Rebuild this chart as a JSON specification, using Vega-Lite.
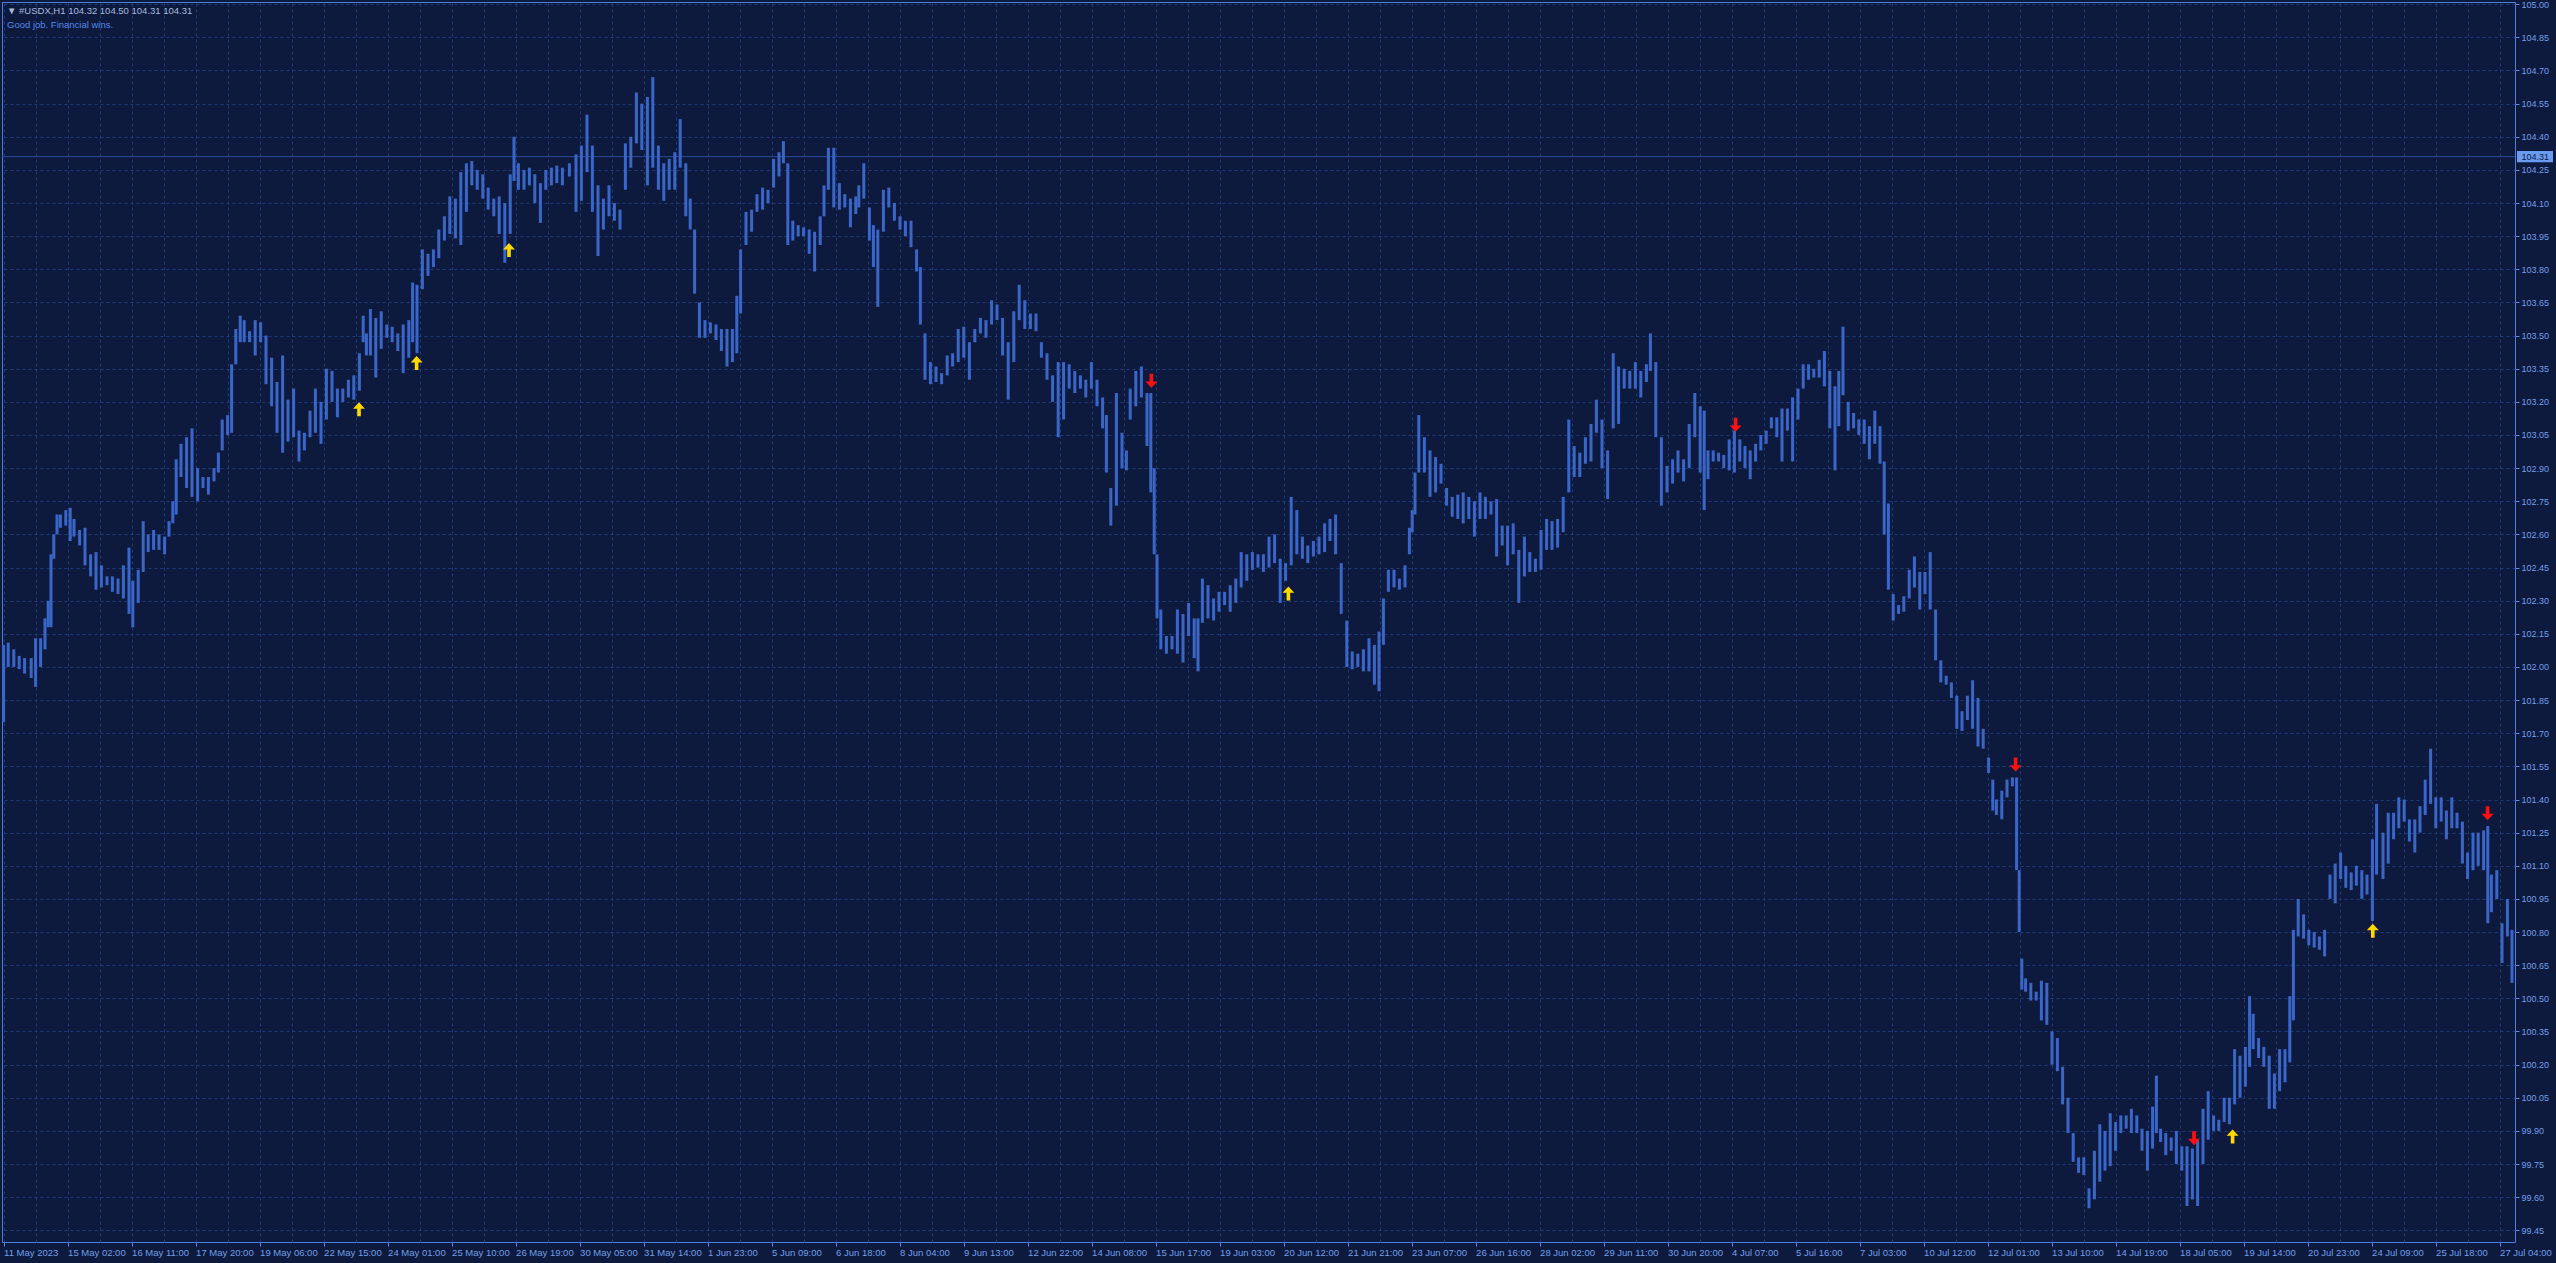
{
"$schema": "https://vega.github.io/schema/vega-lite/v6.json",
"width": 2513,
"height": 1240,
"autosize": {"type": "none"},
"padding": {"left": 2, "top": 2, "right": 41, "bottom": 21},
"background": "#0e1a3d",
"title": {"text": "▼ #USDX,H1  104.32 104.50 104.31 104.31", "subtitle": "Good job. Financial wins.", "anchor": "start", "frame": "group", "orient": "top", "offset": -29, "dx": 5, "font": "Liberation Sans", "fontSize": 9.5, "fontWeight": "normal", "color": "#aab9dd", "subtitleFont": "Liberation Sans", "subtitleFontSize": 9.5, "subtitleColor": "#5288ea", "subtitlePadding": 4},
"config": {
  "view": {"stroke": "#4e7fdc", "strokeWidth": 1},
  "axis": {"labelFont": "Liberation Sans", "labelColor": "#729fea", "tickColor": "#5a8ae0", "gridColor": "#1e3a78", "gridDash": [3, 3], "gridWidth": 1, "domain": false, "title": null}
},
"resolve": {"axis": {"x": "independent", "y": "independent"}},
"layer": [
  {
    "data": {"values": [{"p": 104.31}]},
    "mark": {"type": "rule", "color": "#2a4a96", "strokeWidth": 1},
    "encoding": {
      "y": {"field": "p", "type": "quantitative", "scale": {"domain": [99.397, 105.01], "nice": false, "zero": false},
        "axis": {"orient": "right", "values": [99.45, 99.6, 99.75, 99.9, 100.05, 100.2, 100.35, 100.5, 100.65, 100.8, 100.95, 101.1, 101.25, 101.4, 101.55, 101.7, 101.85, 102, 102.15, 102.3, 102.45, 102.6, 102.75, 102.9, 103.05, 103.2, 103.35, 103.5, 103.65, 103.8, 103.95, 104.1, 104.25, 104.4, 104.55, 104.7, 104.85, 105], "format": ".2f", "grid": true, "ticks": true, "tickSize": 4, "labelPadding": 2, "labelFontSize": 9, "labelOverlap": false, "labelBound": false, "labelFlush": false}}
    }
  },
  {
    "data": {"values": [
{"i":0,"h":102.1,"l":101.75},{"i":2.3,"h":102.11,"l":102.0},{"i":5.1,"h":102.08,"l":102.0},{"i":7.8,"h":102.05,"l":101.99},{"i":10.5,"h":102.04,"l":101.97},{"i":13.8,"h":102.04,"l":101.95},{"i":16,"h":102.13,"l":101.91},{"i":18.5,"h":102.13,"l":102.0},{"i":20.7,"h":102.22,"l":102.08},{"i":22.3,"h":102.3,"l":102.18},
{"i":23.7,"h":102.51,"l":102.18},{"i":25.1,"h":102.6,"l":102.49},{"i":26.7,"h":102.69,"l":102.6},{"i":28.4,"h":102.69,"l":102.63},{"i":31.1,"h":102.71,"l":102.64},{"i":33.3,"h":102.72,"l":102.57},{"i":35.2,"h":102.67,"l":102.59},{"i":38,"h":102.62,"l":102.55},{"i":40.7,"h":102.63,"l":102.46},{"i":43.5,"h":102.51,"l":102.41},
{"i":46.2,"h":102.52,"l":102.35},{"i":48.9,"h":102.46,"l":102.36},{"i":51.7,"h":102.41,"l":102.37},{"i":54.4,"h":102.41,"l":102.34},{"i":57.2,"h":102.4,"l":102.33},{"i":59.9,"h":102.46,"l":102.31},{"i":62.7,"h":102.54,"l":102.24},{"i":64.6,"h":102.39,"l":102.18},{"i":67.3,"h":102.44,"l":102.29},{"i":69.8,"h":102.66,"l":102.43},
{"i":72.3,"h":102.6,"l":102.52},{"i":75,"h":102.62,"l":102.53},{"i":77.7,"h":102.6,"l":102.53},{"i":80.5,"h":102.59,"l":102.51},{"i":82.7,"h":102.66,"l":102.59},{"i":84.6,"h":102.75,"l":102.65},{"i":86.3,"h":102.94,"l":102.69},{"i":88.7,"h":103.01,"l":102.86},{"i":91.5,"h":103.04,"l":102.81},{"i":94.2,"h":103.08,"l":102.77},
{"i":97,"h":102.9,"l":102.75},{"i":99.7,"h":102.86,"l":102.81},{"i":102.4,"h":102.86,"l":102.78},{"i":105.2,"h":102.9,"l":102.84},{"i":107.4,"h":102.97,"l":102.88},{"i":109.3,"h":103.12,"l":102.98},{"i":112,"h":103.14,"l":103.05},{"i":114,"h":103.37,"l":103.06},{"i":116.1,"h":103.53,"l":103.37},{"i":118.3,"h":103.59,"l":103.47},
{"i":120.3,"h":103.57,"l":103.47},{"i":123,"h":103.52,"l":103.47},{"i":125.8,"h":103.57,"l":103.41},{"i":128.5,"h":103.56,"l":103.47},{"i":131.2,"h":103.5,"l":103.28},{"i":134,"h":103.4,"l":103.18},{"i":136.7,"h":103.29,"l":103.06},{"i":139.5,"h":103.41,"l":102.97},{"i":142.2,"h":103.21,"l":103.02},{"i":145,"h":103.26,"l":103.04},
{"i":147.7,"h":103.07,"l":102.93},{"i":150.4,"h":103.06,"l":102.98},{"i":153.2,"h":103.16,"l":103.04},{"i":155.9,"h":103.26,"l":103.06},{"i":158.7,"h":103.2,"l":103.01},{"i":161.4,"h":103.35,"l":103.12},{"i":164.2,"h":103.34,"l":103.2},{"i":166.9,"h":103.26,"l":103.13},{"i":169.6,"h":103.26,"l":103.2},{"i":172.4,"h":103.3,"l":103.22},
{"i":175.1,"h":103.32,"l":103.21},{"i":177.9,"h":103.42,"l":103.25},{"i":179.8,"h":103.59,"l":103.47},{"i":181.4,"h":103.51,"l":103.41},{"i":183.4,"h":103.62,"l":103.41},{"i":186.1,"h":103.58,"l":103.31},{"i":188.8,"h":103.61,"l":103.44},{"i":191.6,"h":103.55,"l":103.49},{"i":194.3,"h":103.54,"l":103.47},{"i":197.1,"h":103.51,"l":103.43},
{"i":199.8,"h":103.55,"l":103.33},{"i":202.6,"h":103.57,"l":103.4},{"i":204.5,"h":103.74,"l":103.47},{"i":206.7,"h":103.73,"l":103.42},{"i":209.4,"h":103.89,"l":103.71},{"i":212.2,"h":103.87,"l":103.77},{"i":214.9,"h":103.89,"l":103.81},{"i":217.6,"h":103.98,"l":103.85},{"i":220.4,"h":104.04,"l":103.93},{"i":223.1,"h":104.13,"l":103.96},
{"i":225.9,"h":104.12,"l":103.94},{"i":228.6,"h":104.24,"l":103.91},{"i":231.4,"h":104.28,"l":104.06},{"i":234.1,"h":104.29,"l":104.18},{"i":236.8,"h":104.25,"l":104.16},{"i":239.6,"h":104.23,"l":104.12},{"i":242.3,"h":104.17,"l":104.07},{"i":245.1,"h":104.12,"l":104.04},{"i":247.8,"h":104.13,"l":103.96},{"i":250.6,"h":104.1,"l":103.83},
{"i":253.3,"h":104.23,"l":103.96},{"i":255.2,"h":104.4,"l":104.2},{"i":257.4,"h":104.28,"l":104.16},{"i":260.2,"h":104.25,"l":104.16},{"i":262.9,"h":104.26,"l":104.18},{"i":265.6,"h":104.23,"l":104.1},{"i":268.4,"h":104.19,"l":104.01},{"i":271.1,"h":104.25,"l":104.16},{"i":273.9,"h":104.26,"l":104.18},{"i":276.6,"h":104.27,"l":104.19},
{"i":279.4,"h":104.26,"l":104.18},{"i":282.9,"h":104.28,"l":104.22},{"i":286.2,"h":104.32,"l":104.06},{"i":288.9,"h":104.36,"l":104.11},{"i":291.7,"h":104.5,"l":104.24},{"i":294.4,"h":104.36,"l":104.06},{"i":297.2,"h":104.18,"l":103.86},{"i":299.9,"h":104.12,"l":103.98},{"i":302.7,"h":104.18,"l":104.04},{"i":305.4,"h":104.1,"l":104.02},
{"i":308.2,"h":104.07,"l":103.98},{"i":310.9,"h":104.37,"l":104.16},{"i":313.6,"h":104.4,"l":104.26},{"i":316.4,"h":104.6,"l":104.37},{"i":319.1,"h":104.55,"l":104.34},{"i":321.9,"h":104.58,"l":104.18},{"i":324.6,"h":104.67,"l":104.26},{"i":327.4,"h":104.36,"l":104.16},{"i":330.1,"h":104.28,"l":104.11},{"i":332.8,"h":104.3,"l":104.16},
{"i":335.6,"h":104.33,"l":104.16},{"i":338.3,"h":104.48,"l":104.26},{"i":341.1,"h":104.28,"l":104.04},{"i":343.3,"h":104.12,"l":103.98},{"i":345.5,"h":103.98,"l":103.69},{"i":347.9,"h":103.65,"l":103.49},{"i":350.7,"h":103.57,"l":103.49},{"i":353.4,"h":103.56,"l":103.51},{"i":356.2,"h":103.55,"l":103.48},{"i":358.9,"h":103.53,"l":103.43},
{"i":361.7,"h":103.53,"l":103.36},{"i":364.4,"h":103.53,"l":103.38},{"i":366.6,"h":103.68,"l":103.42},{"i":368.5,"h":103.89,"l":103.6},{"i":371.2,"h":104.06,"l":103.91},{"i":374,"h":104.07,"l":103.97},{"i":376.7,"h":104.14,"l":104.06},{"i":379.5,"h":104.17,"l":104.07},{"i":382.2,"h":104.16,"l":104.1},{"i":385,"h":104.3,"l":104.17},
{"i":387.7,"h":104.33,"l":104.22},{"i":389.9,"h":104.38,"l":104.28},{"i":392.1,"h":104.28,"l":103.91},{"i":394.6,"h":104.02,"l":103.93},{"i":397.3,"h":104.0,"l":103.95},{"i":400,"h":103.99,"l":103.95},{"i":402.8,"h":103.98,"l":103.87},{"i":405.5,"h":103.97,"l":103.79},{"i":408.3,"h":104.04,"l":103.91},{"i":410.2,"h":104.18,"l":104.04},
{"i":412.4,"h":104.35,"l":104.16},{"i":415.1,"h":104.35,"l":104.08},{"i":417.9,"h":104.19,"l":104.07},{"i":420.6,"h":104.14,"l":104.08},{"i":423.4,"h":104.12,"l":103.99},{"i":426.1,"h":104.13,"l":104.05},{"i":427.6,"h":104.18,"l":104.08},{"i":430.1,"h":104.28,"l":104.12},{"i":432.9,"h":104.08,"l":103.93},{"i":434.9,"h":104.0,"l":103.81},
{"i":437.1,"h":103.98,"l":103.63},{"i":439.9,"h":104.16,"l":103.97},{"i":442.6,"h":104.17,"l":104.08},{"i":445.4,"h":104.1,"l":104.02},{"i":448.2,"h":104.04,"l":103.98},{"i":450.9,"h":104.02,"l":103.95},{"i":453.7,"h":104.02,"l":103.9},{"i":456.5,"h":103.89,"l":103.79},{"i":458.4,"h":103.81,"l":103.55},{"i":460.7,"h":103.51,"l":103.3},
{"i":463.4,"h":103.38,"l":103.28},{"i":466.2,"h":103.36,"l":103.29},{"i":469,"h":103.33,"l":103.28},{"i":471.8,"h":103.41,"l":103.32},{"i":474.5,"h":103.42,"l":103.36},{"i":477.3,"h":103.53,"l":103.38},{"i":480.1,"h":103.54,"l":103.4},{"i":482.9,"h":103.47,"l":103.3},{"i":485.6,"h":103.53,"l":103.47},{"i":488.4,"h":103.58,"l":103.51},
{"i":491.2,"h":103.57,"l":103.49},{"i":494,"h":103.66,"l":103.55},{"i":496.7,"h":103.64,"l":103.57},{"i":499.5,"h":103.58,"l":103.41},{"i":502.3,"h":103.47,"l":103.21},{"i":505.1,"h":103.61,"l":103.38},{"i":507.8,"h":103.73,"l":103.57},{"i":510.6,"h":103.66,"l":103.53},{"i":513.4,"h":103.6,"l":103.53},{"i":516.2,"h":103.6,"l":103.52},
{"i":518.9,"h":103.47,"l":103.4},{"i":521.7,"h":103.42,"l":103.3},{"i":524.5,"h":103.32,"l":103.2},{"i":527.3,"h":103.38,"l":103.04},{"i":530,"h":103.38,"l":103.12},{"i":532.8,"h":103.37,"l":103.26},{"i":535.6,"h":103.34,"l":103.24},{"i":538.4,"h":103.32,"l":103.26},{"i":541.1,"h":103.3,"l":103.22},{"i":543.9,"h":103.38,"l":103.26},
{"i":546.7,"h":103.3,"l":103.18},{"i":549.5,"h":103.22,"l":103.08},{"i":551.4,"h":103.14,"l":102.88},{"i":553.6,"h":102.81,"l":102.64},{"i":556.4,"h":103.24,"l":102.73},{"i":559.2,"h":103.06,"l":102.9},{"i":561.4,"h":102.98,"l":102.89},{"i":563.3,"h":103.26,"l":103.12},{"i":566.1,"h":103.34,"l":103.18},{"i":568.9,"h":103.36,"l":103.22},
{"i":571.7,"h":103.24,"l":103.0},{"i":573.6,"h":103.24,"l":102.79},{"i":575.3,"h":102.9,"l":102.51},{"i":576.7,"h":102.51,"l":102.22},{"i":578.6,"h":102.26,"l":102.08},{"i":581.4,"h":102.14,"l":102.06},{"i":584.2,"h":102.14,"l":102.08},{"i":586.9,"h":102.26,"l":102.06},{"i":589.7,"h":102.24,"l":102.02},{"i":592.5,"h":102.29,"l":102.14},
{"i":595.3,"h":102.22,"l":102.04},{"i":597.2,"h":102.22,"l":101.98},{"i":599.4,"h":102.4,"l":102.2},{"i":602.2,"h":102.37,"l":102.22},{"i":605,"h":102.31,"l":102.21},{"i":607.7,"h":102.34,"l":102.25},{"i":610.5,"h":102.34,"l":102.28},{"i":613.3,"h":102.37,"l":102.25},{"i":616.1,"h":102.4,"l":102.29},{"i":618.8,"h":102.52,"l":102.36},
{"i":621.6,"h":102.51,"l":102.39},{"i":624.4,"h":102.52,"l":102.44},{"i":627.2,"h":102.51,"l":102.45},{"i":629.9,"h":102.51,"l":102.43},{"i":632.7,"h":102.59,"l":102.45},{"i":635.5,"h":102.6,"l":102.47},{"i":638.3,"h":102.49,"l":102.29},{"i":641,"h":102.47,"l":102.39},{"i":643.8,"h":102.77,"l":102.46},{"i":646.6,"h":102.71,"l":102.51},
{"i":649.4,"h":102.59,"l":102.49},{"i":652.1,"h":102.55,"l":102.47},{"i":654.9,"h":102.57,"l":102.5},{"i":657.7,"h":102.59,"l":102.51},{"i":660.5,"h":102.65,"l":102.52},{"i":663.2,"h":102.67,"l":102.57},{"i":666,"h":102.69,"l":102.51},{"i":668.8,"h":102.47,"l":102.24},{"i":671.6,"h":102.21,"l":102.0},{"i":674.3,"h":102.07,"l":101.99},
{"i":677.1,"h":102.06,"l":102.0},{"i":679.9,"h":102.08,"l":101.98},{"i":682.7,"h":102.13,"l":101.98},{"i":685.4,"h":102.1,"l":101.92},{"i":687.7,"h":102.16,"l":101.89},{"i":689.9,"h":102.31,"l":102.1},{"i":692.4,"h":102.44,"l":102.34},{"i":695.2,"h":102.44,"l":102.36},{"i":697.9,"h":102.4,"l":102.35},{"i":700.7,"h":102.46,"l":102.36},
{"i":702.9,"h":102.63,"l":102.51},{"i":704.3,"h":102.71,"l":102.61},{"i":705.7,"h":102.88,"l":102.69},{"i":707.6,"h":103.14,"l":102.88},{"i":710.4,"h":103.04,"l":102.88},{"i":713.2,"h":102.98,"l":102.77},{"i":716,"h":102.95,"l":102.79},{"i":718.7,"h":102.92,"l":102.83},{"i":721.5,"h":102.81,"l":102.73},{"i":724.3,"h":102.77,"l":102.68},
{"i":727.1,"h":102.78,"l":102.67},{"i":729.8,"h":102.79,"l":102.65},{"i":732.6,"h":102.77,"l":102.67},{"i":735.4,"h":102.75,"l":102.59},{"i":738.2,"h":102.79,"l":102.67},{"i":740.9,"h":102.77,"l":102.67},{"i":743.7,"h":102.75,"l":102.69},{"i":746.5,"h":102.76,"l":102.5},{"i":749.3,"h":102.64,"l":102.55},{"i":752,"h":102.64,"l":102.46},
{"i":754.8,"h":102.65,"l":102.51},{"i":757.6,"h":102.53,"l":102.29},{"i":760.4,"h":102.59,"l":102.41},{"i":763.1,"h":102.52,"l":102.43},{"i":765.9,"h":102.49,"l":102.43},{"i":768.7,"h":102.62,"l":102.44},{"i":771.5,"h":102.67,"l":102.53},{"i":774.2,"h":102.66,"l":102.53},{"i":777,"h":102.67,"l":102.54},{"i":779.8,"h":102.77,"l":102.61},
{"i":782.6,"h":103.12,"l":102.79},{"i":785.3,"h":103.0,"l":102.86},{"i":788.1,"h":102.97,"l":102.86},{"i":790.9,"h":103.04,"l":102.92},{"i":793.7,"h":103.1,"l":102.93},{"i":796.4,"h":103.21,"l":103.06},{"i":799.2,"h":103.12,"l":102.9},{"i":802,"h":102.98,"l":102.76},{"i":804.8,"h":103.42,"l":103.08},{"i":807.5,"h":103.36,"l":103.1},
{"i":810.3,"h":103.35,"l":103.26},{"i":813.1,"h":103.34,"l":103.26},{"i":815.9,"h":103.38,"l":103.26},{"i":818.6,"h":103.34,"l":103.22},{"i":821.4,"h":103.37,"l":103.29},{"i":823.4,"h":103.51,"l":103.34},{"i":826.1,"h":103.38,"l":103.04},{"i":828.9,"h":103.04,"l":102.73},{"i":831.7,"h":102.91,"l":102.79},{"i":834.5,"h":102.94,"l":102.83},
{"i":837.2,"h":102.98,"l":102.88},{"i":840,"h":102.94,"l":102.84},{"i":842.8,"h":103.1,"l":102.9},{"i":845.6,"h":103.24,"l":103.04},{"i":848.3,"h":103.18,"l":102.88},{"i":850.3,"h":103.16,"l":102.71},{"i":852.2,"h":102.98,"l":102.85},{"i":854.8,"h":102.98,"l":102.93},{"i":857.5,"h":102.97,"l":102.93},{"i":860.1,"h":102.96,"l":102.9},
{"i":862.8,"h":103.03,"l":102.89},{"i":865.4,"h":103.07,"l":102.88},{"i":868.1,"h":103.03,"l":102.93},{"i":870.7,"h":103.0,"l":102.9},{"i":873.3,"h":102.98,"l":102.85},{"i":876,"h":103.01,"l":102.93},{"i":878.6,"h":103.05,"l":102.98},{"i":881.3,"h":103.07,"l":103.01},{"i":883.9,"h":103.13,"l":103.08},{"i":886.6,"h":103.13,"l":103.04},
{"i":889.2,"h":103.17,"l":102.93},{"i":891.9,"h":103.17,"l":103.07},{"i":894.5,"h":103.22,"l":102.93},{"i":897.2,"h":103.26,"l":103.12},{"i":899.8,"h":103.37,"l":103.26},{"i":902.5,"h":103.37,"l":103.3},{"i":905.1,"h":103.35,"l":103.31},{"i":907.8,"h":103.39,"l":103.31},{"i":910.4,"h":103.43,"l":103.27},{"i":913.1,"h":103.34,"l":103.08},
{"i":915.7,"h":103.27,"l":102.89},{"i":917.6,"h":103.34,"l":103.09},{"i":919.7,"h":103.54,"l":103.23},{"i":922.3,"h":103.2,"l":103.07},{"i":925,"h":103.15,"l":103.08},{"i":927.6,"h":103.12,"l":103.05},{"i":930.3,"h":103.12,"l":103.01},{"i":932.9,"h":103.09,"l":102.94},{"i":935.6,"h":103.16,"l":103.01},{"i":938.2,"h":103.09,"l":102.92},
{"i":940.3,"h":102.93,"l":102.6},{"i":942.4,"h":102.74,"l":102.35},{"i":944.8,"h":102.33,"l":102.21},{"i":947.5,"h":102.28,"l":102.24},{"i":950.1,"h":102.32,"l":102.25},{"i":952.8,"h":102.44,"l":102.31},{"i":955.4,"h":102.5,"l":102.36},{"i":958.1,"h":102.43,"l":102.26},{"i":960.7,"h":102.43,"l":102.33},{"i":963.3,"h":102.52,"l":102.26},
{"i":966,"h":102.26,"l":102.03},{"i":968.6,"h":102.03,"l":101.93},{"i":971.3,"h":101.96,"l":101.92},{"i":973.9,"h":101.93,"l":101.86},{"i":976.6,"h":101.87,"l":101.72},{"i":979.2,"h":101.8,"l":101.71},{"i":981.9,"h":101.87,"l":101.76},{"i":984.5,"h":101.94,"l":101.72},{"i":987.2,"h":101.86,"l":101.64},{"i":989.8,"h":101.72,"l":101.63},
{"i":992.5,"h":101.59,"l":101.52},{"i":994.6,"h":101.49,"l":101.35},{"i":996.4,"h":101.4,"l":101.33},{"i":999.1,"h":101.44,"l":101.31},{"i":1001.7,"h":101.49,"l":101.41},{"i":1004.4,"h":101.5,"l":101.46},{"i":1006.5,"h":101.5,"l":101.08},{"i":1007.8,"h":101.08,"l":100.8},{"i":1009.1,"h":100.68,"l":100.54},{"i":1011,"h":100.59,"l":100.53},
{"i":1013.6,"h":100.57,"l":100.49},{"i":1016.3,"h":100.53,"l":100.49},{"i":1018.9,"h":100.58,"l":100.4},{"i":1021.6,"h":100.57,"l":100.38},{"i":1024.2,"h":100.35,"l":100.2},{"i":1026.9,"h":100.32,"l":100.17},{"i":1029.5,"h":100.19,"l":100.02},{"i":1032.2,"h":100.05,"l":99.89},{"i":1034.8,"h":99.89,"l":99.76},{"i":1037.5,"h":99.78,"l":99.71},
{"i":1040.1,"h":99.78,"l":99.7},{"i":1042.7,"h":99.64,"l":99.55},{"i":1045.4,"h":99.81,"l":99.59},{"i":1048.1,"h":99.93,"l":99.67},{"i":1050.7,"h":99.9,"l":99.72},{"i":1053.3,"h":99.98,"l":99.74},{"i":1056,"h":99.94,"l":99.81},{"i":1058.6,"h":99.97,"l":99.89},{"i":1061.3,"h":99.97,"l":99.91},{"i":1063.9,"h":100.0,"l":99.89},
{"i":1066.6,"h":99.97,"l":99.89},{"i":1069.2,"h":99.91,"l":99.81},{"i":1071.9,"h":99.9,"l":99.72},{"i":1074.5,"h":100.01,"l":99.82},{"i":1076.4,"h":100.15,"l":99.89},{"i":1078.5,"h":99.91,"l":99.85},{"i":1081.1,"h":99.89,"l":99.79},{"i":1083.8,"h":99.87,"l":99.81},{"i":1086.4,"h":99.9,"l":99.75},{"i":1089.1,"h":99.83,"l":99.72},
{"i":1091.7,"h":99.83,"l":99.56},{"i":1094.4,"h":99.82,"l":99.59},{"i":1097,"h":99.86,"l":99.56},{"i":1099.7,"h":100.0,"l":99.75},{"i":1102.3,"h":100.08,"l":99.86},{"i":1105,"h":99.97,"l":99.9},{"i":1107.6,"h":99.95,"l":99.9},{"i":1110.3,"h":100.05,"l":99.94},{"i":1112.9,"h":100.05,"l":99.93},{"i":1115.5,"h":100.27,"l":100.02},
{"i":1118.2,"h":100.24,"l":100.05},{"i":1120.9,"h":100.28,"l":100.1},{"i":1123,"h":100.51,"l":100.19},{"i":1124.8,"h":100.43,"l":100.27},{"i":1127.5,"h":100.32,"l":100.23},{"i":1130.1,"h":100.28,"l":100.19},{"i":1132.8,"h":100.24,"l":100.0},{"i":1135.4,"h":100.16,"l":100.0},{"i":1138,"h":100.27,"l":100.08},{"i":1140.7,"h":100.27,"l":100.12},
{"i":1143.1,"h":100.51,"l":100.21},{"i":1144.9,"h":100.81,"l":100.4},{"i":1147.3,"h":100.95,"l":100.78},{"i":1150,"h":100.88,"l":100.77},{"i":1152.6,"h":100.81,"l":100.74},{"i":1155.3,"h":100.8,"l":100.73},{"i":1157.9,"h":100.78,"l":100.72},{"i":1160.5,"h":100.81,"l":100.69},{"i":1163.2,"h":101.06,"l":100.95},{"i":1165.8,"h":101.11,"l":100.93},
{"i":1168.5,"h":101.16,"l":101.04},{"i":1171.1,"h":101.1,"l":101.0},{"i":1173.8,"h":101.07,"l":100.99},{"i":1176.4,"h":101.1,"l":101.01},{"i":1179.1,"h":101.08,"l":100.95},{"i":1181.7,"h":101.06,"l":100.97},{"i":1184.4,"h":101.22,"l":100.85},{"i":1186.5,"h":101.38,"l":101.06},{"i":1189.7,"h":101.25,"l":101.04},{"i":1192.3,"h":101.34,"l":101.11},
{"i":1195,"h":101.34,"l":101.22},{"i":1197.6,"h":101.41,"l":101.27},{"i":1200.3,"h":101.4,"l":101.3},{"i":1202.9,"h":101.31,"l":101.21},{"i":1205.6,"h":101.31,"l":101.16},{"i":1208.2,"h":101.37,"l":101.25},{"i":1210.8,"h":101.49,"l":101.33},{"i":1213.5,"h":101.63,"l":101.38},{"i":1216.1,"h":101.41,"l":101.27},{"i":1218.8,"h":101.41,"l":101.3},
{"i":1221.4,"h":101.35,"l":101.22},{"i":1224.1,"h":101.41,"l":101.27},{"i":1226.7,"h":101.34,"l":101.27},{"i":1229.4,"h":101.3,"l":101.11},{"i":1232,"h":101.16,"l":101.04},{"i":1234.7,"h":101.25,"l":101.08},{"i":1237.3,"h":101.25,"l":101.1},{"i":1240,"h":101.26,"l":101.08},{"i":1242.1,"h":101.28,"l":100.84},{"i":1243.9,"h":101.06,"l":100.89},
{"i":1246.6,"h":101.08,"l":100.95},{"i":1249.2,"h":100.84,"l":100.66},{"i":1251.9,"h":100.95,"l":100.78},{"i":1254.2,"h":100.81,"l":100.57}
    ]},
    "mark": {"type": "rule", "color": "#3a66c8", "strokeWidth": 3, "strokeCap": "butt"},
    "encoding": {
      "x": {"field": "i", "type": "quantitative", "scale": {"domain": [-0.8, 1255.7], "nice": false, "zero": false},
        "axis": {"orient": "bottom", "values": [0,32,64,96,128,160,192,224,256,288,320,352,384,416,448,480,512,544,576,608,640,672,704,736,768,800,832,864,896,928,960,992,1024,1056,1088,1120,1152,1184,1216,1248],
          "labelExpr": "['11 May 2023','15 May 02:00','16 May 11:00','17 May 20:00','19 May 06:00','22 May 15:00','24 May 01:00','25 May 10:00','26 May 19:00','30 May 05:00','31 May 14:00','1 Jun 23:00','5 Jun 09:00','6 Jun 18:00','8 Jun 04:00','9 Jun 13:00','12 Jun 22:00','14 Jun 08:00','15 Jun 17:00','19 Jun 03:00','20 Jun 12:00','21 Jun 21:00','23 Jun 07:00','26 Jun 16:00','28 Jun 02:00','29 Jun 11:00','30 Jun 20:00','4 Jul 07:00','5 Jul 16:00','7 Jul 03:00','10 Jul 12:00','12 Jul 01:00','13 Jul 10:00','14 Jul 19:00','18 Jul 05:00','19 Jul 14:00','20 Jul 23:00','24 Jul 09:00','25 Jul 18:00','27 Jul 04:00'][round(datum.value/32)]",
          "grid": false, "ticks": true, "tickSize": 4, "labelAlign": "left", "labelBaseline": "top", "labelPadding": 1, "labelFontSize": 9.5, "labelOverlap": false, "labelBound": false, "labelFlush": false}},
      "y": {"field": "h", "type": "quantitative", "axis": null},
      "y2": {"field": "l"}
    }
  },
  {
    "data": {"values": [
      {"i": 177.7, "p": 103.166, "dir": "up"}, {"i": 206.5, "p": 103.376, "dir": "up"}, {"i": 252.7, "p": 103.887, "dir": "up"}, {"i": 642.4, "p": 102.333, "dir": "up"}, {"i": 1114.5, "p": 99.875, "dir": "up"}, {"i": 1184.6, "p": 100.806, "dir": "up"},
      {"i": 573.9, "p": 103.295, "dir": "down"}, {"i": 866.0, "p": 103.096, "dir": "down"}, {"i": 1006.0, "p": 101.558, "dir": "down"}, {"i": 1095.2, "p": 99.867, "dir": "down"}, {"i": 1242.0, "p": 101.338, "dir": "down"}
    ]},
    "mark": {"type": "point", "filled": true, "opacity": 1, "size": 196, "strokeWidth": 0},
    "encoding": {
      "x": {"field": "i", "type": "quantitative",
        "axis": {"orient": "top", "values": [0,16,32,48,64,80,96,112,128,144,160,176,192,208,224,240,256,272,288,304,320,336,352,368,384,400,416,432,448,464,480,496,512,528,544,560,576,592,608,624,640,656,672,688,704,720,736,752,768,784,800,816,832,848,864,880,896,912,928,944,960,976,992,1008,1024,1040,1056,1072,1088,1104,1120,1136,1152,1168,1184,1200,1216,1232,1248], "grid": true, "labels": false, "ticks": false, "domain": false}},
      "y": {"field": "p", "type": "quantitative", "axis": null},
      "shape": {"field": "dir", "type": "nominal", "legend": null, "scale": {"domain": ["up", "down"], "range": ["M0,-1L0.85,-0.08L0.26,-0.08L0.26,1L-0.26,1L-0.26,-0.08L-0.85,-0.08Z", "M0,1L0.85,0.08L0.26,0.08L0.26,-1L-0.26,-1L-0.26,0.08L-0.85,0.08Z"]}},
      "color": {"field": "dir", "type": "nominal", "legend": null, "scale": {"domain": ["up", "down"], "range": ["#ffd800", "#ff1010"]}}
    }
  },
  {
    "data": {"values": [{"x1": 1256.7, "x2": 1274.7, "p1": 104.285, "p2": 104.336}]},
    "mark": {"type": "rect", "color": "#6a9bf2"},
    "encoding": {
      "x": {"field": "x1", "type": "quantitative", "axis": null},
      "x2": {"field": "x2"},
      "y": {"field": "p1", "type": "quantitative", "axis": null},
      "y2": {"field": "p2"}
    }
  },
  {
    "data": {"values": [{"x": 1259.0, "p": 104.31, "t": "104.31"}]},
    "mark": {"type": "text", "align": "left", "baseline": "middle", "font": "Liberation Sans", "fontSize": 9, "color": "#0e1a3d"},
    "encoding": {
      "x": {"field": "x", "type": "quantitative", "axis": null},
      "y": {"field": "p", "type": "quantitative", "axis": null},
      "text": {"field": "t"}
    }
  }
]
}
